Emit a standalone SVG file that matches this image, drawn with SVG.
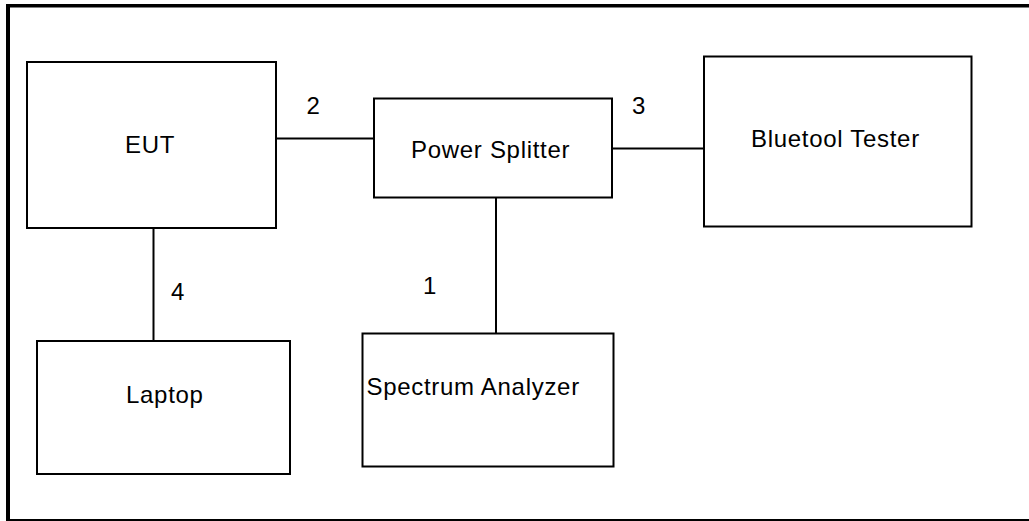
<svg xmlns="http://www.w3.org/2000/svg" width="1029" height="521" viewBox="0 0 1029 521">
<style>
.box{fill:#fff;stroke:#000;stroke-width:2}
.lbl{font-family:"Liberation Sans",Arial,sans-serif;font-size:24px;fill:#000;letter-spacing:0.7px}
.num{font-family:"Liberation Sans",Arial,sans-serif;font-size:24px;fill:#000}
.conn line{stroke:#000;stroke-width:2}
</style>
<rect width="1029" height="521" fill="#fff"/>
<g id="frame" fill="#000">
<rect x="6" y="4" width="1023" height="3.5"/>
<rect x="6" y="4" width="4" height="517"/>
<rect x="6" y="519" width="1023" height="2"/>
</g>
<g class="conn" id="connectors">
<line x1="276" y1="138.5" x2="374" y2="138.5"/>
<line x1="612" y1="148.5" x2="704" y2="148.5"/>
<line x1="496" y1="197" x2="496" y2="333"/>
<line x1="153.5" y1="228" x2="153.5" y2="341"/>
</g>
<g id="labels">
<text class="num" x="306.5" y="114">2</text>
<text class="num" x="632" y="113.5">3</text>
<text class="num" x="423" y="293.5">1</text>
<text class="num" x="171" y="300">4</text>
</g>
<g id="eut"><rect class="box" x="27" y="62" width="249" height="166"/><text class="lbl" x="125" y="152.5">EUT</text></g>
<g id="splitter"><rect class="box" x="374" y="98.5" width="238" height="99"/><text class="lbl" x="411" y="157.5">Power Splitter</text></g>
<g id="tester"><rect class="box" x="704" y="56.5" width="267.5" height="170"/><text class="lbl" x="751" y="147">Bluetool Tester</text></g>
<g id="laptop"><rect class="box" x="37" y="341" width="253" height="133"/><text class="lbl" x="126" y="402.5">Laptop</text></g>
<g id="analyzer"><rect class="box" x="362.5" y="333.5" width="251" height="133"/><text class="lbl" x="366.5" y="394.5">Spectrum Analyzer</text></g>
</svg>
